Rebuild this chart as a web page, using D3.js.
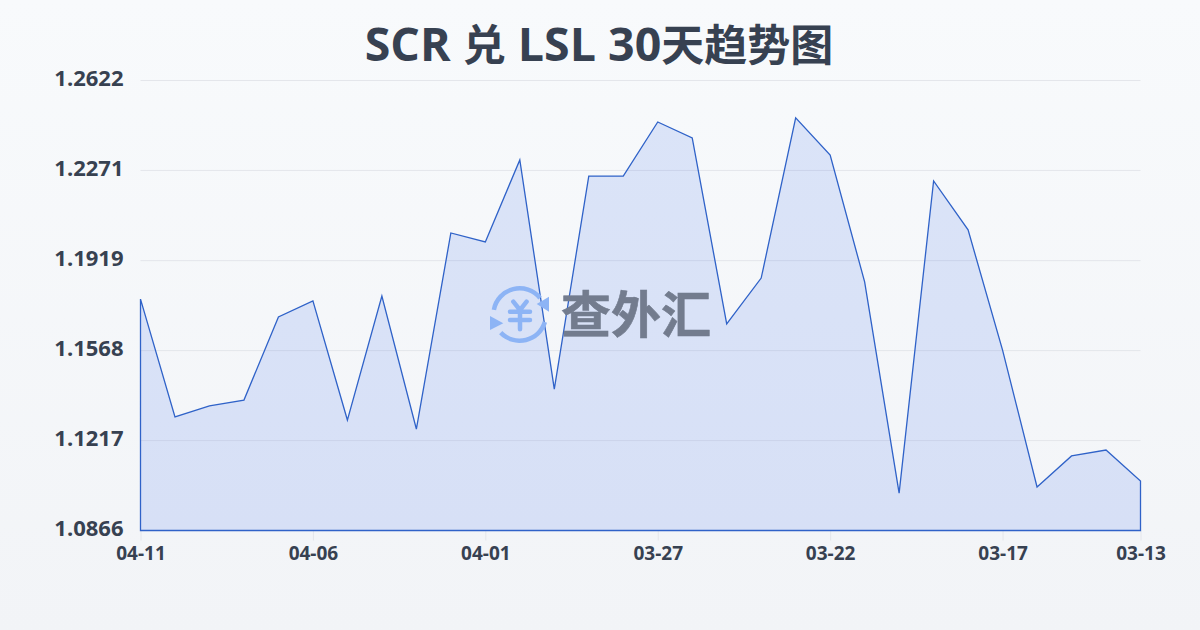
<!DOCTYPE html>
<html>
<head>
<meta charset="utf-8">
<script src="https://cdn.jsdelivr.net/npm/d3@7"></script>
<style>
html, body { margin: 0; padding: 0; }
svg { display: block; }
text { font-family: "Open Sans", "Noto Sans CJK SC", sans-serif; }
</style>
</head>
<body>
<div id="chart"></div>
<script>
const dates = ['04-11','04-10','04-09','04-08','04-07','04-06','04-05','04-04','04-03','04-02',
    '04-01','03-31','03-30','03-29','03-28','03-27','03-26','03-25','03-24','03-23',
    '03-22','03-21','03-20','03-19','03-18','03-17','03-16','03-15','03-14','03-13'];
const rates = [1.1769,1.1309,1.1352,1.1375,1.1699,1.1762,1.1297,1.1781,1.1262,1.2027,
    1.1992,1.2312,1.1418,1.2249,1.2249,1.2460,1.2398,1.1672,1.1851,1.2476,
    1.2331,1.1836,1.1012,1.2230,1.2039,1.1570,1.1036,1.1157,1.1180,1.1059];
const xTickLabels = ['04-11','04-06','04-01','03-27','03-22','03-17','03-13'];
const yTickLabels = [1.0866,1.1217,1.1568,1.1919,1.2271,1.2622];
const titleParts = ['SCR ', '兑', ' LSL 30', '天趋势图'];

const width = 1200, height = 630;
const margin = {top: 80.5, right: 59.5, bottom: 99.5, left: 140.5};
const innerW = width - margin.left - margin.right;
const innerH = height - margin.top - margin.bottom;

const svg = d3.select('#chart').append('svg')
    .attr('width', width)
    .attr('height', height);

const defs = svg.append('defs');
const bg = defs.append('linearGradient').attr('id', 'bg')
    .attr('x1', 0).attr('y1', 0).attr('x2', 0).attr('y2', 1);
bg.append('stop').attr('offset', '0%').attr('stop-color', '#f8fafc');
bg.append('stop').attr('offset', '100%').attr('stop-color', '#f2f4f7');

svg.append('rect')
    .attr('width', width)
    .attr('height', height)
    .attr('fill', 'url(#bg)');

// latin and CJK runs have different apparent sizes in the title
svg.append('text')
    .attr('x', 599)
    .attr('y', 61)
    .attr('text-anchor', 'middle')
    .attr('font-weight', 700)
    .attr('fill', '#374151')
    .selectAll('tspan')
    .data(titleParts)
    .enter()
    .append('tspan')
    .attr('font-size', (d, i) => i % 2 ? 43 : 46.5)
    .text(d => d);

const g = svg.append('g')
    .attr('transform', `translate(${margin.left},${margin.top})`);

const x = d3.scalePoint().domain(dates).range([0, innerW]);
const y = d3.scaleLinear().domain([1.0866, 1.2622]).range([innerH, 0]);

// gridlines
g.append('g')
    .selectAll('line')
    .data(yTickLabels.slice(1))
    .enter()
    .append('line')
    .attr('x1', 0)
    .attr('x2', innerW)
    .attr('y1', d => y(d))
    .attr('y2', d => y(d))
    .attr('stroke', '#e4e6eb')
    .attr('stroke-width', 1);

const yAxis = d3.axisLeft(y)
    .tickValues(yTickLabels)
    .tickFormat(d3.format('.4f'))
    .tickSize(0)
    .tickPadding(17);

const yAxisG = g.append('g').call(yAxis);
yAxisG.select('.domain').remove();
yAxisG.selectAll('text')
    .attr('dy', '0.22em')
    .attr('font-size', 22)
    .attr('font-weight', 700)
    .attr('fill', '#374151');

const xAxis = d3.axisBottom(x)
    .tickValues(xTickLabels)
    .tickSize(10)
    .tickPadding(6);

const xAxisG = g.append('g')
    .attr('transform', `translate(0,${innerH})`)
    .call(xAxis);
xAxisG.select('.domain').remove();
xAxisG.selectAll('line').attr('stroke', '#e4e6eb');
xAxisG.selectAll('text')
    .attr('font-size', 19)
    .attr('font-weight', 700)
    .attr('fill', '#374151');

const area = d3.area()
    .x((d, i) => x(dates[i]))
    .y0(innerH)
    .y1(d => y(d));

g.append('path')
    .datum(rates)
    .attr('d', area)
    .attr('fill', '#3b6ae8')
    .attr('fill-opacity', 0.15);

// watermark logo
const logoColor = '#8db4f5';
const logo = svg.append('g').attr('transform', 'translate(519.7,314.5)');
const logoArc = d3.arc().innerRadius(24).outerRadius(28.5);
logo.append('path')
    .attr('d', logoArc({startAngle: -1.39, endAngle: 0.89}))
    .attr('fill', logoColor);
logo.append('path')
    .attr('d', logoArc({startAngle: 1.86, endAngle: 3.95}))
    .attr('fill', logoColor);
logo.append('path').attr('d', 'M29.3,-17.8 L29.3,-2.8 L17,-10.5 Z').attr('fill', logoColor);
logo.append('path').attr('d', 'M-29.7,1.5 L-29.7,15.5 L-16.4,8.8 Z').attr('fill', logoColor);
logo.append('path')
    .attr('d', 'M-6.4,-12.8 L0.3,-4.5 L6.9,-12.8 M-9.7,-2.8 L10.3,-2.8 M-9.7,5.5 L10.3,5.5 M0.3,-4.5 L0.3,14.8')
    .attr('fill', 'none')
    .attr('stroke', logoColor)
    .attr('stroke-width', 4.5)
    .attr('stroke-linecap', 'round')
    .attr('stroke-linejoin', 'round');

svg.append('text')
    .attr('x', 561)
    .attr('y', 333)
    .attr('font-size', 50)
    .attr('font-weight', 700)
    .attr('fill', '#737c8e')
    .attr('stroke', '#737c8e')
    .attr('stroke-width', 0.6)
    .style('font-family', '"Noto Sans CJK SC"')
    .text('查外汇');

// closed outline, same as the area shape
g.append('path')
    .datum(rates)
    .attr('d', d => area(d))
    .attr('fill', 'none')
    .attr('stroke', '#2f62c8')
    .attr('stroke-width', 1.3);
</script>
</body>
</html>
